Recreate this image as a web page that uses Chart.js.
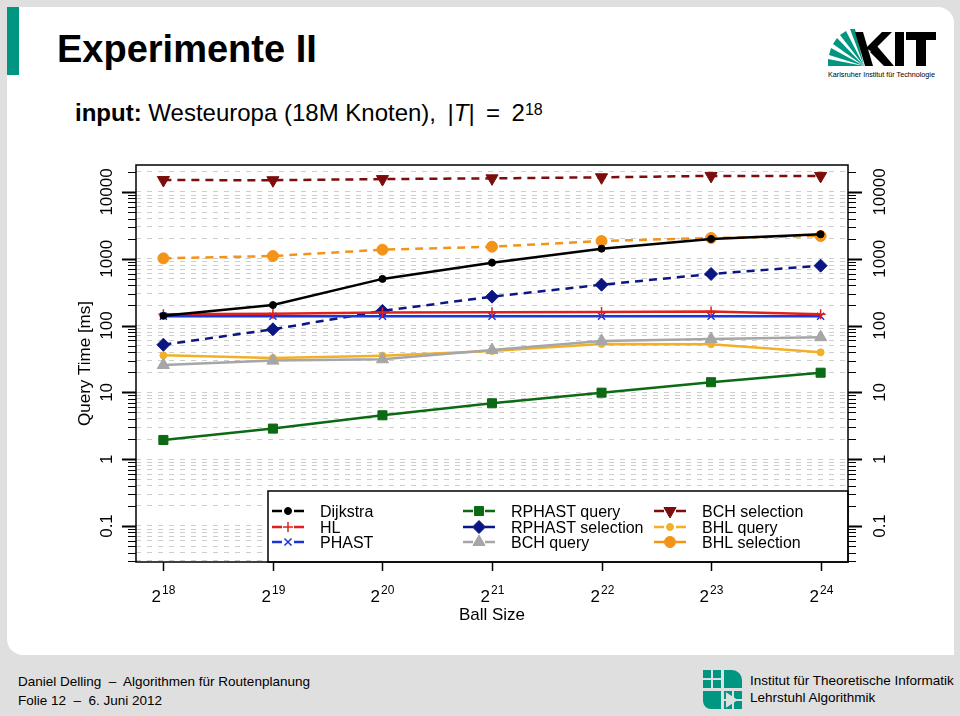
<!DOCTYPE html>
<html>
<head>
<meta charset="utf-8">
<title>Experimente II</title>
<script src="https://cdn.jsdelivr.net/npm/chart.js@4.4.1/dist/chart.umd.min.js"></script>
<style>
html, body { margin: 0; padding: 0; }
body {
  width: 960px; height: 716px; position: relative; overflow: hidden;
  background: #dfdfdf; font-family: "Liberation Sans", Arial, sans-serif; color: #000;
}
#panel { position: absolute; left: 7px; top: 7px; width: 947px; height: 648px; background: #fff; border-radius: 0 16px 0 16px; }
#bar { position: absolute; left: 7px; top: 7px; width: 12px; height: 68px; background: #009682; }
.txt { position: absolute; white-space: nowrap; }
#title { left: 57px; top: 30px; font-size: 38px; line-height: 38px; font-weight: bold; }
#subtitle { left: 75px; top: 101px; font-size: 24px; line-height: 24px; }
#subtitle sup { font-size: 16px; position: relative; top: -3px; vertical-align: top; }
.foot { font-size: 13.5px; line-height: 13.5px; }
#kit { position: absolute; left: 820px; top: 26px; }
#iti { position: absolute; left: 700px; top: 667px; }
#chart { position: absolute; left: 0; top: 0; }
</style>
</head>
<body>
<div id="panel"></div>
<div id="bar"></div>
<div class="txt" id="title">Experimente II</div>
<div class="txt" id="subtitle"><b>input:</b> Westeuropa (18M Knoten), &#8201;|<i>T</i>|&#8201; = &#8201;2<sup>18</sup></div>

<svg id="kit" width="125" height="58" viewBox="0 0 125 58">
  <g fill="#009682">
    <polygon points="44,40 8,40 8,33"/>
    <polygon points="44,40 9,29 11,22"/>
    <polygon points="44,40 13,18 17,12"/>
    <polygon points="44,40 20,9 26,5"/>
    <polygon points="44,40 30,3 35,3"/>
  </g>
  <g fill="#000">
    <polygon points="35,6 43,6 53,40 45,40"/>
    <polygon points="46,22 62,6 72,6 52,26"/>
    <polygon points="50,26 57,20 74,40 64,40"/>
    <rect x="75" y="6" width="9" height="34"/>
    <rect x="86" y="6" width="30" height="8"/>
    <rect x="96" y="6" width="10" height="34"/>
  </g>
  <text x="8" y="51" font-size="7.2" font-family="Liberation Sans, Arial, sans-serif">Karlsruher Institut für Technologie</text>
</svg>

<svg id="iti" width="46" height="46" viewBox="0 0 46 46">
  <g fill="#009682">
    <path d="M3,3 H21 V21 H3 Z"/>
    <path d="M24,3 H32 A10,10 0 0 1 42,13 V21 H24 Z"/>
    <path d="M3,24 H21 V42 H11 A8,8 0 0 1 3,34 Z"/>
    <path d="M24,24 H42 V42 H24 Z"/>
  </g>
  <g stroke="#dfdfdf" stroke-width="2" fill="none">
    <path d="M12,3 V21 M3,12 H21 M33,24 V42 M24,33 H42"/>
    <path d="M27,27 L36,33 L27,39 Z" fill="#dfdfdf"/>
  </g>
</svg>

<div class="txt foot" style="left:18px; top:675px;">Daniel Delling &nbsp;&ndash;&nbsp; Algorithmen für Routenplanung</div>
<div class="txt foot" style="left:18px; top:694px;">Folie 12 &nbsp;&ndash;&nbsp; 6. Juni 2012</div>
<div class="txt foot" style="left:750px; top:674px;">Institut für Theoretische Informatik</div>
<div class="txt foot" style="left:750px; top:691px;">Lehrstuhl Algorithmik</div>

<canvas id="chart" width="960" height="716"></canvas>

<script>
// Ball size = 2^exp
var ballSizeExp = [18, 19, 20, 21, 22, 23, 24];

// query times in ms
var dijkstra        = [140, 203, 500, 875, 1415, 1980, 2330];
var hl              = [148, 150, 157, 158, 160, 162, 148];
var phast           = [138, 138, 138, 138, 138, 138, 138];
var rphastQuery     = [1.94, 2.87, 4.54, 6.87, 9.9, 14.2, 19.7];
var rphastSelection = [51.7, 88, 166, 271, 409, 592, 789];
var bchQuery        = [25.7, 29.9, 31.3, 43, 59, 63, 67];
var bchSelection    = [15100, 15000, 15600, 16000, 16600, 17400, 17400];
var bhlQuery        = [35.9, 32.7, 35.5, 41.7, 53, 52.5, 39.8];
var bhlSelection    = [1016, 1100, 1368, 1517, 1846, 2048, 2193];

var yTickValues = [0.1, 1, 10, 100, 1000, 10000];
var yTickLabels = ['0.1', '1', '10', '100', '1000', '10000'];

var FONT = '"Liberation Sans", Arial, sans-serif';

function pts(values) {
  return values.map(function(v, i) { return { x: ballSizeExp[i], y: v }; });
}

function series(label, values, color, style, radius, dashed, rotation) {
  return {
    label: label,
    data: pts(values),
    borderColor: color,
    backgroundColor: color,
    borderWidth: 2.5,
    borderDash: dashed ? [8, 6] : [],
    pointStyle: style,
    pointRadius: radius,
    pointRotation: rotation || 0,
    pointBorderWidth: (style == 'cross' || style == 'crossRot') ? 1.5 : 1,
    pointBackgroundColor: color,
    pointBorderColor: color,
    tension: 0,
    fill: false
  };
}

var datasets = [
  series('Dijkstra', dijkstra, '#000000', 'circle', 3.5, false),
  series('HL', hl, '#e0201c', 'cross', 5, false),
  series('PHAST', phast, '#1a35d8', 'crossRot', 5, false),
  series('RPHAST query', rphastQuery, '#0c6a14', 'rect', 6.4, false),
  series('RPHAST selection', rphastSelection, '#0b1683', 'rectRot', 6.5, true),
  series('BCH query', bchQuery, '#a6a6a6', 'triangle', 7, false),
  series('BCH selection', bchSelection, '#7c0d0d', 'triangle', 7, true, 180),
  series('BHL query', bhlQuery, '#f2b028', 'circle', 3.5, false),
  series('BHL selection', bhlSelection, '#f39419', 'circle', 5.5, true)
];

var framePlugin = {
  id: 'frame',
  afterDatasetsDraw: function(chart) {
    var ctx = chart.ctx, a = chart.chartArea;
    var xs = chart.scales.x, ys = chart.scales.y;
    ctx.save();

    // legend box
    var lx = 268, ly = 491;
    ctx.fillStyle = '#fff';
    ctx.fillRect(lx, ly, a.right - lx, a.bottom - ly);
    ctx.strokeStyle = '#000';
    ctx.lineWidth = 1.5;
    ctx.strokeRect(lx, ly, a.right - lx, a.bottom - ly);

    var colX = [272, 463, 654], rowY = [511, 527, 542];
    chart.data.datasets.forEach(function(ds, i) {
      var cx = colX[Math.floor(i / 3)], cy = rowY[i % 3];
      ctx.setLineDash([]);
      ctx.strokeStyle = ds.borderColor;
      ctx.lineWidth = 2.5;
      ctx.beginPath();
      ctx.moveTo(cx, cy); ctx.lineTo(cx + 10, cy);
      ctx.moveTo(cx + 22, cy); ctx.lineTo(cx + 32, cy);
      ctx.stroke();
      ctx.fillStyle = ds.pointBackgroundColor;
      ctx.lineWidth = ds.pointBorderWidth;
      Chart.helpers.drawPoint(ctx, { pointStyle: ds.pointStyle, rotation: ds.pointRotation, radius: ds.pointRadius, borderWidth: ds.pointBorderWidth }, cx + 16, cy);
      ctx.fillStyle = '#000';
      ctx.font = '16px ' + FONT;
      ctx.textAlign = 'left';
      ctx.textBaseline = 'alphabetic';
      ctx.fillText(ds.label, cx + 48, cy + 5.5);
    });

    // plot frame
    ctx.setLineDash([]);
    ctx.strokeStyle = '#000';
    ctx.lineWidth = 1.5;
    ctx.strokeRect(a.left, a.top, a.right - a.left, a.bottom - a.top);

    // y ticks, both sides
    for (var e = -2; e <= 4; e++) {
      for (var m = 1; m <= 9; m++) {
        var v = m * Math.pow(10, e);
        if (v < ys.min || v > ys.max) continue;
        var y = Math.round(ys.getPixelForValue(v)) + 0.5;
        var len = m == 1 ? 14 : 8;
        ctx.lineWidth = m == 1 ? 2 : 1.2;
        ctx.beginPath();
        ctx.moveTo(a.left, y); ctx.lineTo(a.left - len, y);
        ctx.moveTo(a.right, y); ctx.lineTo(a.right + len, y);
        ctx.stroke();
      }
    }

    // y tick labels, rotated
    ctx.fillStyle = '#000';
    ctx.font = '17px ' + FONT;
    ctx.textAlign = 'center';
    ctx.textBaseline = 'middle';
    yTickValues.forEach(function(v, i) {
      var y = ys.getPixelForValue(v);
      [107, 880].forEach(function(x) {
        ctx.save();
        ctx.translate(x, y);
        ctx.rotate(-Math.PI / 2);
        ctx.fillText(yTickLabels[i], 0, 0);
        ctx.restore();
      });
    });

    // x ticks and 2^k labels
    ctx.lineWidth = 1.5;
    ballSizeExp.forEach(function(k) {
      var x = Math.round(xs.getPixelForValue(k)) + 0.5;
      ctx.beginPath();
      ctx.moveTo(x, a.bottom); ctx.lineTo(x, a.bottom + 9);
      ctx.stroke();
      ctx.textAlign = 'left';
      ctx.textBaseline = 'alphabetic';
      ctx.font = '17px ' + FONT;
      var w1 = ctx.measureText('2').width;
      ctx.font = '12px ' + FONT;
      var w2 = ctx.measureText(String(k)).width;
      var x0 = x - (w1 + w2 + 1) / 2;
      ctx.font = '17px ' + FONT;
      ctx.fillText('2', x0, 602);
      ctx.font = '12px ' + FONT;
      ctx.fillText(String(k), x0 + w1 + 1, 594);
    });

    // axis titles
    ctx.font = '17px ' + FONT;
    ctx.textAlign = 'center';
    ctx.fillText('Ball Size', 492, 620);
    ctx.save();
    ctx.translate(85, (a.top + a.bottom) / 2);
    ctx.rotate(-Math.PI / 2);
    ctx.textBaseline = 'middle';
    ctx.fillText('Query Time [ms]', 0, 0);
    ctx.restore();

    ctx.restore();
  }
};

function init() {
  var ctx = document.getElementById('chart');
  new Chart(ctx, {
    type: 'line',
    data: { datasets: datasets },
    options: {
      responsive: false,
      animation: false,
      devicePixelRatio: 1,
      layout: { padding: { left: 136, right: 112, top: 165, bottom: 154 } },
      plugins: { legend: { display: false }, tooltip: { enabled: false } },
      scales: {
        x: {
          type: 'linear', min: 17.75, max: 24.25, display: false
        },
        y: {
          type: 'logarithmic', min: 0.0289, max: 25350,
          grid: { color: '#cdcdcd', lineWidth: 1, drawTicks: false },
          border: { display: false, dash: [5, 6] },
          ticks: { display: false },
          afterBuildTicks: function(s) {
            var t = [];
            for (var e = -2; e <= 4; e++) {
              for (var m = 1; m <= 9; m++) {
                var v = m * Math.pow(10, e);
                if (v >= s.min && v <= s.max) t.push({ value: v, major: m == 1 });
              }
            }
            s.ticks = t;
          },
          afterFit: function(s) { s.width = 0; }
        }
      }
    },
    plugins: [framePlugin]
  });
}

init();
</script>
</body>
</html>
